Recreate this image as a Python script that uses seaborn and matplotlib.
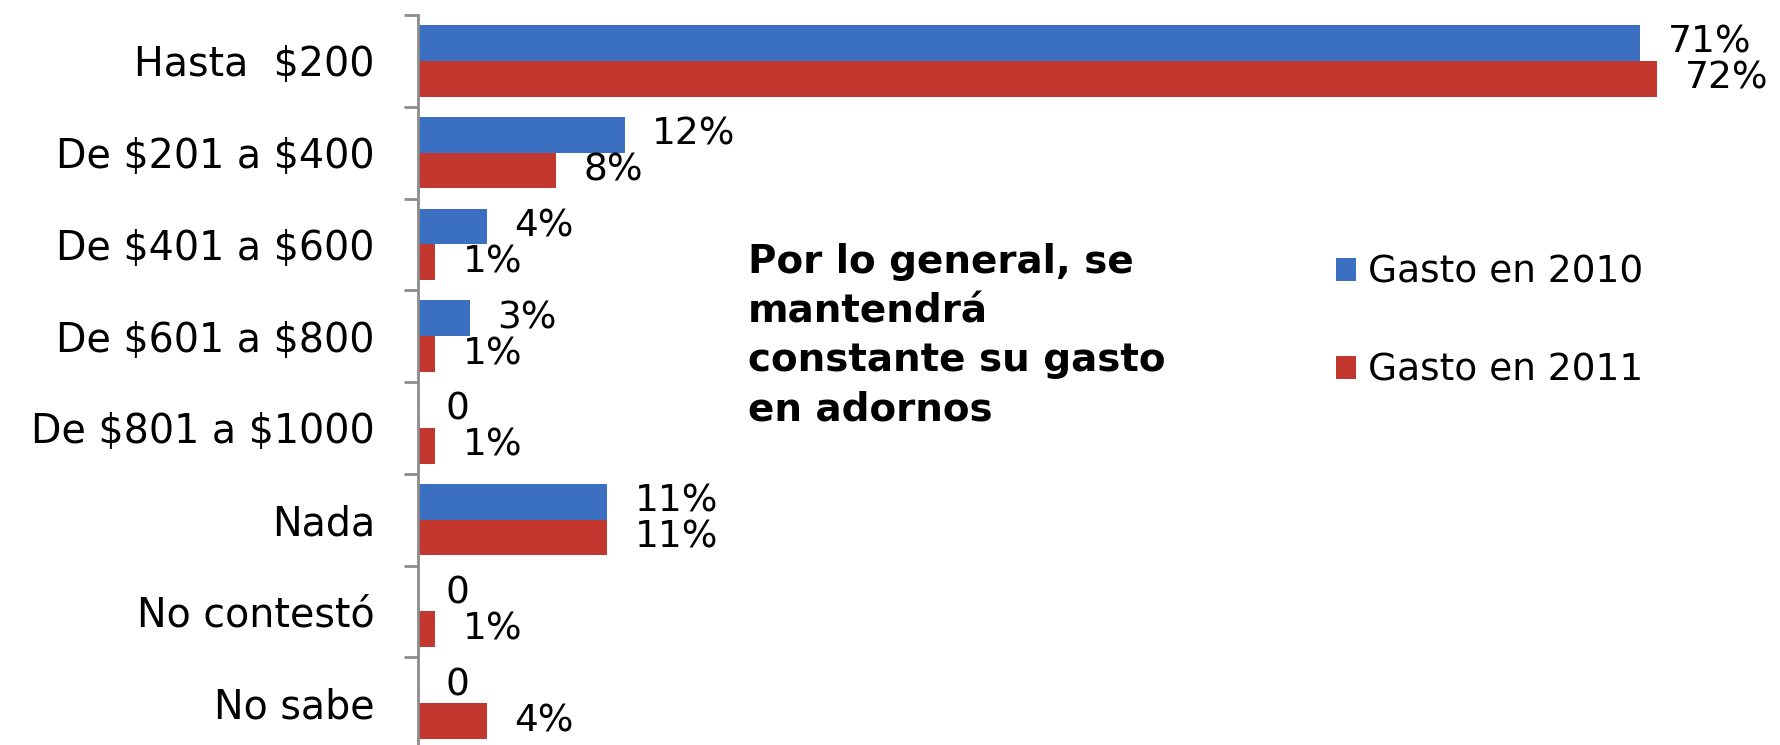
import matplotlib
matplotlib.use("Agg")
import matplotlib.pyplot as plt
import numpy as np
import pandas as pd
import seaborn as sns

categories = ["Hasta  $200", "De $201 a $400", "De $401 a $600", "De $601 a $800",
              "De $801 a $1000", "Nada", "No contestó", "No sabe"]
gasto_2010 = [71, 12, 4, 3, 0, 11, 0, 0]
gasto_2011 = [72, 8, 1, 1, 1, 11, 1, 4]
series = ["Gasto en 2010", "Gasto en 2011"]
colors = ["#3a6fc2", "#c2372e"]
note = "Por lo general, se\nmantendrá\nconstante su gasto\nen adornos"

df = pd.DataFrame({
    "Rango": categories * 2,
    "Serie": [series[0]] * len(categories) + [series[1]] * len(categories),
    "Pct": gasto_2010 + gasto_2011,
})

sns.set_style("white")
plt.rcParams["font.family"] = ["DejaVu Sans"]
plt.rcParams["text.parse_math"] = False
plt.rcParams["text.color"] = "black"
plt.rcParams["ytick.color"] = "black"

fig = plt.figure(figsize=(17.81, 7.45), dpi=100)
ax = fig.add_axes([418 / 1781, -4 / 745, 1 - 418 / 1781, 734 / 745])

sns.barplot(data=df, y="Rango", x="Pct", hue="Serie", palette=colors,
            orient="h", width=0.78, ax=ax, saturation=1, errorbar=None,
            linewidth=0)

for cont, vals in zip(ax.containers, [gasto_2010, gasto_2011]):
    labs = [f"{v}%" if v else "0" for v in vals]
    ax.bar_label(cont, labels=labs, padding=20, fontsize=27, color="black")

ax.set_xlim(0, 79.2)
ax.set_ylim(len(categories) - 0.5, -0.5)
ax.set_xlabel("")
ax.set_ylabel("")
ax.xaxis.set_visible(False)
for s in ["top", "right", "bottom"]:
    ax.spines[s].set_visible(False)
ax.spines["left"].set_color("#8c8c8c")
ax.spines["left"].set_linewidth(2)

ax.set_yticks(np.arange(len(categories) + 1) - 0.5, minor=True)
ax.tick_params(axis="y", which="minor", left=True, length=10, width=2,
               color="#8c8c8c", direction="out")
ax.tick_params(axis="y", which="major", left=True, length=0, pad=31,
               labelsize=28.5, labelcolor="black")

handles, labels = ax.get_legend_handles_labels()
ax.legend(handles, labels, loc="upper left", bbox_to_anchor=(1302 / 1781, 1 - 221 / 745),
          bbox_transform=fig.transFigure, frameon=False, fontsize=27,
          handlelength=0.55, handleheight=0.55, handletextpad=0.3, labelspacing=1.65,
          labelcolor="black")

fig.text(748 / 1781, 1 - 243 / 745, note, fontsize=28, fontweight="bold",
         va="top", ha="left", linespacing=1.37, color="black")

fig.savefig("out.png", dpi=100)
